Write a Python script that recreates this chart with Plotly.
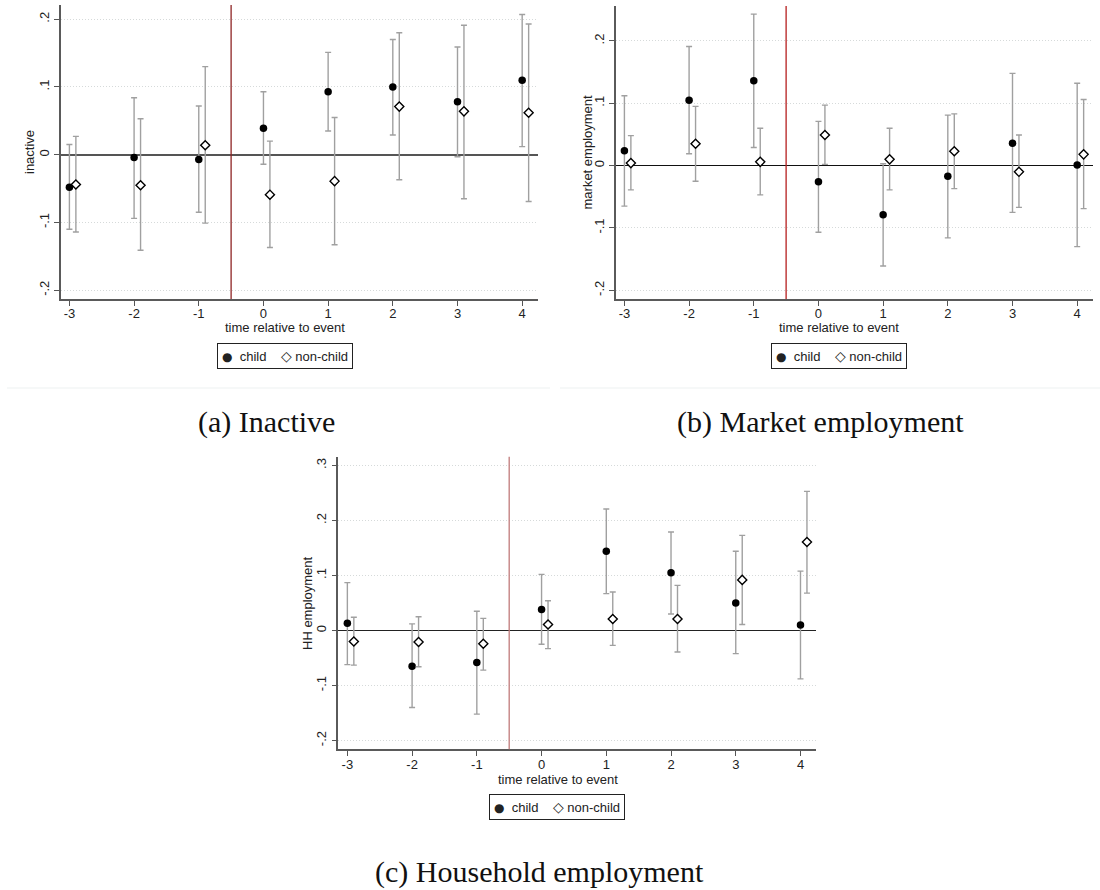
import plotly.graph_objects as go

# Event time relative to the event
periods = [-3, -2, -1, 0, 1, 2, 3, 4]
offset_nonchild = 0.1

# (a) Inactive
inact_child = [-0.048, -0.004, -0.007, 0.039, 0.093, 0.100, 0.078, 0.110]
inact_child_hi = [0.015, 0.084, 0.072, 0.093, 0.151, 0.170, 0.159, 0.207]
inact_child_lo = [-0.110, -0.094, -0.085, -0.014, 0.035, 0.029, -0.003, 0.012]
inact_non = [-0.044, -0.045, 0.014, -0.059, -0.039, 0.071, 0.064, 0.062]
inact_non_hi = [0.027, 0.053, 0.130, 0.020, 0.055, 0.180, 0.191, 0.193]
inact_non_lo = [-0.114, -0.141, -0.101, -0.137, -0.133, -0.037, -0.065, -0.069]

# (b) Market employment
mkt_child = [0.024, 0.105, 0.136, -0.026, -0.079, -0.017, 0.036, 0.001]
mkt_child_hi = [0.112, 0.191, 0.243, 0.071, 0.003, 0.081, 0.148, 0.132]
mkt_child_lo = [-0.065, 0.019, 0.029, -0.107, -0.161, -0.116, -0.075, -0.130]
mkt_non = [0.004, 0.035, 0.006, 0.049, 0.010, 0.023, -0.010, 0.018]
mkt_non_hi = [0.048, 0.095, 0.060, 0.097, 0.060, 0.083, 0.049, 0.106]
mkt_non_lo = [-0.039, -0.025, -0.047, 0.002, -0.039, -0.037, -0.067, -0.069]

# (c) Household employment
hh_child = [0.013, -0.065, -0.058, 0.038, 0.144, 0.105, 0.050, 0.010]
hh_child_hi = [0.087, 0.012, 0.035, 0.102, 0.221, 0.179, 0.144, 0.108]
hh_child_lo = [-0.062, -0.140, -0.152, -0.025, 0.067, 0.030, -0.042, -0.088]
hh_non = [-0.020, -0.021, -0.024, 0.011, 0.021, 0.021, 0.092, 0.161]
hh_non_hi = [0.024, 0.025, 0.022, 0.054, 0.070, 0.082, 0.173, 0.253]
hh_non_lo = [-0.063, -0.066, -0.072, -0.033, -0.027, -0.039, 0.011, 0.068]

ytick_vals_ab = [-0.2, -0.1, 0, 0.1, 0.2]
ytick_text_ab = ["-.2", "-.1", "0", ".1", ".2"]
ytick_vals_c = [-0.2, -0.1, 0, 0.1, 0.2, 0.3]
ytick_text_c = ["-.2", "-.1", "0", ".1", ".2", ".3"]

W, H = 1100, 890
SANS = "Liberation Sans, Arial, sans-serif"
SERIF = "Liberation Serif, Times New Roman, serif"
TXT = "#222222"
CI_COLOR = "#a0a0a0"

# legend key: filled circle for child, hollow diamond for non-child
LEGEND_TEXT = (
    '<span style="font-family:DejaVu Sans;font-size:12px">\u25cf</span>'
    '&nbsp;&nbsp;child&nbsp;&nbsp;&nbsp;&nbsp;'
    '<span style="font-family:DejaVu Sans;font-size:14px">\u25c7</span>'
    '&nbsp;non-child'
)

panels = [
    dict(key="", child=inact_child, chi=inact_child_hi, clo=inact_child_lo,
         non=inact_non, nhi=inact_non_hi, nlo=inact_non_lo,
         px=(61, 537.7), py=(5, 299), xr=[-3.13, 4.24], yr=[-0.213, 0.221],
         yv=ytick_vals_ab, yt=ytick_text_ab, ytitle="inactive", ytitle_x=29,
         xtitle_x=285, xtitle_y=328, leg_x=285, leg_y=356, vcol="#8e2424",
         zcol="#555555", zw=2.0,
         caption="(a) Inactive", cap_x=266, cap_y=422),
    dict(key="2", child=mkt_child, chi=mkt_child_hi, clo=mkt_child_lo,
         non=mkt_non, nhi=mkt_non_hi, nlo=mkt_non_lo,
         px=(616, 1092.7), py=(6, 299), xr=[-3.13, 4.24], yr=[-0.214, 0.256],
         yv=ytick_vals_ab, yt=ytick_text_ab, ytitle="market employment", ytitle_x=587,
         xtitle_x=839, xtitle_y=328, leg_x=839, leg_y=356, vcol="#b51e1e",
         zcol="#111111", zw=1.3,
         caption="(b) Market employment", cap_x=820, cap_y=422),
    dict(key="3", child=hh_child, chi=hh_child_hi, clo=hh_child_lo,
         non=hh_non, nhi=hh_non_hi, nlo=hh_non_lo,
         px=(338.3, 815.7), py=(456.7, 749.3), xr=[-3.14, 4.235], yr=[-0.216, 0.316],
         yv=ytick_vals_c, yt=ytick_text_c, ytitle="HH employment", ytitle_x=307,
         xtitle_x=558, xtitle_y=779, leg_x=557, leg_y=807, vcol="#c07a7a",
         zcol="#222222", zw=1.3,
         caption="(c) Household employment", cap_x=539, cap_y=872),
]

fig = go.Figure()
annotations = []
shapes = []
layout_axes = {}

for p in panels:
    k = p["key"]
    xa, ya = "x" + k, "y" + k
    x_non = [t + offset_nonchild for t in periods]

    fig.add_trace(go.Scatter(
        x=periods, y=p["child"], mode="markers", name="child",
        xaxis=xa, yaxis=ya, showlegend=False,
        marker=dict(symbol="circle", size=7.5, color="black"),
        error_y=dict(type="data", symmetric=False,
                     array=[h - v for h, v in zip(p["chi"], p["child"])],
                     arrayminus=[v - l for v, l in zip(p["child"], p["clo"])],
                     color=CI_COLOR, thickness=1.4, width=3),
    ))
    fig.add_trace(go.Scatter(
        x=x_non, y=p["non"], mode="markers", name="non-child",
        xaxis=xa, yaxis=ya, showlegend=False,
        marker=dict(symbol="diamond", size=7, color="white",
                    line=dict(color="black", width=1.4)),
        error_y=dict(type="data", symmetric=False,
                     array=[h - v for h, v in zip(p["nhi"], p["non"])],
                     arrayminus=[v - l for v, l in zip(p["non"], p["nlo"])],
                     color=CI_COLOR, thickness=1.4, width=3),
    ))

    x0, x1 = p["px"]
    y0, y1 = p["py"]
    layout_axes["xaxis" + k] = dict(
        domain=[x0 / W, x1 / W], range=p["xr"], anchor=ya,
        tickvals=periods, ticktext=[str(t) for t in periods],
        ticks="outside", ticklen=5, tickwidth=1.2, tickcolor="#555555",
        ticklabelstandoff=-3,
        showline=True, linecolor="#5a5a5a", linewidth=1.5,
        showgrid=False, zeroline=False,
        tickfont=dict(family=SANS, size=13, color=TXT),
    )
    layout_axes["yaxis" + k] = dict(
        domain=[1 - y1 / H, 1 - y0 / H], range=p["yr"], anchor=xa,
        tickvals=p["yv"], ticktext=p["yt"], tickangle=-90,
        ticks="outside", ticklen=5, tickwidth=1.2, tickcolor="#555555",
        showline=True, linecolor="#5a5a5a", linewidth=1.5,
        showgrid=True, gridcolor="#d6dada", griddash="1px,2px", gridwidth=1,
        zeroline=True, zerolinecolor=p["zcol"], zerolinewidth=p["zw"],
        tickfont=dict(family=SANS, size=13, color=TXT),
    )

    # event marker between t = -1 and t = 0
    shapes.append(dict(type="line", xref=xa, yref=ya + " domain",
                       x0=-0.5, x1=-0.5, y0=0, y1=1,
                       line=dict(color=p["vcol"], width=1.3)))

    annotations.append(dict(text=p["ytitle"], xref="paper", yref="paper",
                            x=p["ytitle_x"] / W, y=1 - (y0 + y1) / 2 / H,
                            xanchor="center", yanchor="middle",
                            textangle=-90, showarrow=False,
                            font=dict(family=SANS, size=13, color=TXT)))
    annotations.append(dict(text="time relative to event", xref="paper", yref="paper",
                            x=p["xtitle_x"] / W, y=1 - p["xtitle_y"] / H,
                            xanchor="center", yanchor="middle", showarrow=False,
                            font=dict(family=SANS, size=13, color=TXT)))
    annotations.append(dict(text=LEGEND_TEXT, xref="paper", yref="paper",
                            x=p["leg_x"] / W, y=1 - p["leg_y"] / H,
                            xanchor="center", yanchor="middle", showarrow=False,
                            bordercolor="#222222", borderwidth=1, borderpad=4,
                            bgcolor="white",
                            font=dict(family=SANS, size=13, color=TXT)))
    annotations.append(dict(text=p["caption"], xref="paper", yref="paper",
                            x=p["cap_x"] / W, y=1 - p["cap_y"] / H,
                            xanchor="center", yanchor="middle", showarrow=False,
                            font=dict(family=SERIF, size=30, color="#111111")))

# faint frame lines under the two upper panels
shapes.append(dict(type="line", xref="paper", yref="paper",
                   x0=7 / W, x1=550 / W, y0=1 - 388 / H, y1=1 - 388 / H,
                   line=dict(color="#eef1f1", width=1.2)))
shapes.append(dict(type="line", xref="paper", yref="paper",
                   x0=560 / W, x1=1, y0=1 - 388 / H, y1=1 - 388 / H,
                   line=dict(color="#eef1f1", width=1.2)))

fig.update_layout(
    width=W, height=H, margin=dict(l=0, r=0, t=0, b=0),
    paper_bgcolor="white", plot_bgcolor="white",
    showlegend=False, shapes=shapes, annotations=annotations,
    **layout_axes,
)

fig.write_html("out.html")
